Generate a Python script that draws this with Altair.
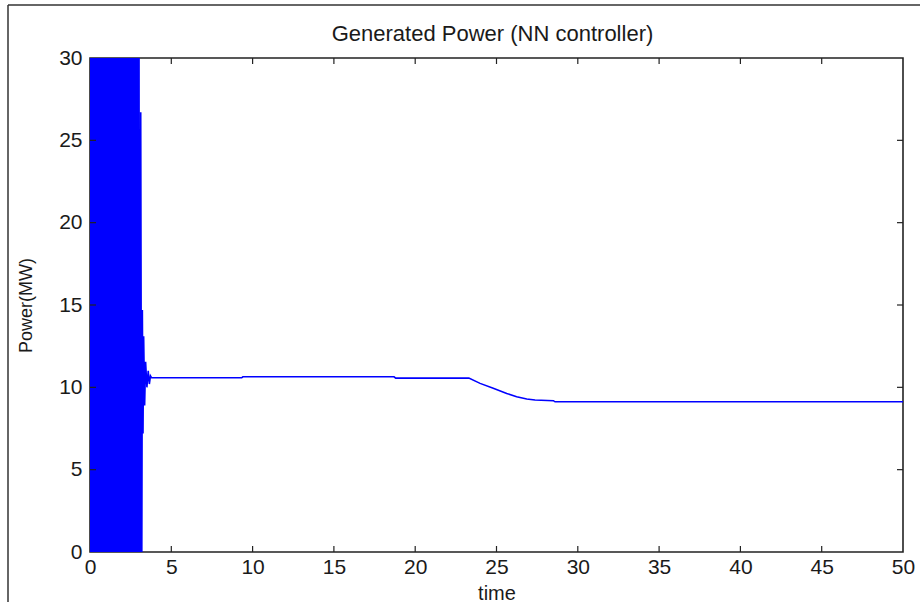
import altair as alt
import pandas as pd

# ---- data ----
# rapid oscillation (values beyond the axis range are clipped, as in the original)
osc_t = [0.00, 0.05, 0.10, 0.15, 0.20, 0.25, 0.30, 0.35, 0.40, 0.45,
         0.50, 0.55, 0.60, 0.65, 0.70, 0.75, 0.80, 0.85, 0.90, 0.95,
         1.00, 1.05, 1.10, 1.15, 1.20, 1.25, 1.30, 1.35, 1.40, 1.45,
         1.50, 1.55, 1.60, 1.65, 1.70, 1.75, 1.80, 1.85, 1.90, 1.95,
         2.00, 2.05, 2.10, 2.15, 2.20, 2.25, 2.30, 2.35, 2.40, 2.45,
         2.50, 2.55, 2.60, 2.65, 2.70, 2.75, 2.80, 2.85, 2.90, 2.95,
         3.00, 3.05]
osc_v = [60, -30, 60, -30, 60, -30, 60, -30, 60, -30,
         60, -30, 60, -30, 60, -30, 60, -30, 60, -30,
         60, -30, 60, -30, 60, -30, 60, -30, 60, -30,
         60, -30, 60, -30, 60, -30, 60, -30, 60, -30,
         60, -30, 60, -30, 60, -30, 60, -30, 60, -30,
         60, -30, 60, -30, 60, -30, 60, -30, 60, -30,
         60, -30]
# decaying part
decay_t = [3.12, 3.18, 3.22, 3.26, 3.30, 3.36, 3.42, 3.50, 3.58, 3.65, 3.72, 3.79]
decay_v = [26.7, -3.0, 14.7, 7.2, 13.1, 8.9, 11.55, 10.0, 11.0, 10.2, 10.7, 10.58]
# slow part
main_t = [4.0, 9.33, 9.4, 18.7, 18.8, 23.3, 23.99, 24.8, 25.63, 26.24, 26.86, 27.37, 28.5, 28.6, 50.0]
main_v = [10.58, 10.58, 10.64, 10.64, 10.56, 10.56, 10.24, 9.94, 9.63, 9.43, 9.29, 9.23, 9.19, 9.12, 9.12]

x_ticks = [0, 5, 10, 15, 20, 25, 30, 35, 40, 45, 50]
y_ticks = [0, 5, 10, 15, 20, 25, 30]

TITLE = "Generated Power (NN controller)"
X_TITLE = "time"
Y_TITLE = "Power(MW)"

t_all = osc_t + decay_t + main_t
v_all = osc_v + decay_v + main_v
df = pd.DataFrame({"t": t_all, "v": v_all, "i": list(range(len(t_all)))})
xt = pd.DataFrame({"t": x_ticks[1:-1]})
yt = pd.DataFrame({"v": y_ticks[1:-1]})
one = pd.DataFrame({"k": [0]})

FONT = "Liberation Sans"
INK = "#1a1a1a"
W, H = 813, 494
xs = alt.Scale(domain=[0, 50], nice=False, zero=False)
ys = alt.Scale(domain=[0, 30], nice=False, zero=False)

x_axis = alt.Axis(
    values=x_ticks, ticks=False, domain=False, grid=False,
    labelFont=FONT, labelFontSize=21, labelColor=INK, labelPadding=4,
    labelFlush=False, labelOverlap=False,
    title=X_TITLE, titleFont=FONT, titleFontSize=20, titleFontWeight="normal",
    titleColor=INK, titleY=47, titleBaseline="alphabetic")
y_axis = alt.Axis(
    values=y_ticks, ticks=False, domain=False, grid=False,
    labelFont=FONT, labelFontSize=21, labelColor=INK, labelPadding=8,
    labelFlush=False, labelOverlap=False,
    title=Y_TITLE, titleFont=FONT, titleFontSize=18, titleFontWeight="normal",
    titleColor=INK, titleX=-59, titleY=247, titleBaseline="alphabetic")

line = alt.Chart(df).mark_line(color="#0000ff", strokeWidth=1.6, clip=True).encode(
    x=alt.X("t:Q", scale=xs, axis=x_axis),
    y=alt.Y("v:Q", scale=ys, axis=y_axis),
    order="i:Q",
)

tick_style = dict(color="#222", strokeWidth=1.2)
top_ticks = alt.Chart(xt).mark_rule(**tick_style).encode(
    x=alt.X("t:Q", scale=xs, axis=x_axis), y=alt.value(0), y2=alt.value(6))
bot_ticks = alt.Chart(xt).mark_rule(**tick_style).encode(
    x=alt.X("t:Q", scale=xs, axis=x_axis), y=alt.value(H), y2=alt.value(H - 6))
left_ticks = alt.Chart(yt).mark_rule(**tick_style).encode(
    y=alt.Y("v:Q", scale=ys, axis=y_axis), x=alt.value(0), x2=alt.value(6))
right_ticks = alt.Chart(yt).mark_rule(**tick_style).encode(
    y=alt.Y("v:Q", scale=ys, axis=y_axis), x=alt.value(W), x2=alt.value(W - 6))

title_text = alt.Chart(one).mark_text(
    text=TITLE, font=FONT, fontSize=22, fontWeight="normal", color=INK,
    align="center", baseline="alphabetic"
).encode(x=alt.value(W / 2 - 4), y=alt.value(-17))

# outer picture frame (top and left edges)
frame_top = alt.Chart(one).mark_rule(color="#333", strokeWidth=1.5).encode(
    x=alt.value(-82), x2=alt.value(840), y=alt.value(-53))
frame_left = alt.Chart(one).mark_rule(color="#333", strokeWidth=1.5).encode(
    x=alt.value(-82), y=alt.value(-53), y2=alt.value(560))

chart = alt.layer(
    line, top_ticks, bot_ticks, left_ticks, right_ticks, title_text, frame_top, frame_left
).properties(
    width=W, height=H,
    autosize=alt.AutoSizeParams(type="none"),
    padding={"left": 90, "top": 58, "right": 17, "bottom": 50},
).configure_view(
    stroke="#222", strokeWidth=1.6
)

chart.save("out.html", embed_options={"renderer": "svg", "actions": False})
